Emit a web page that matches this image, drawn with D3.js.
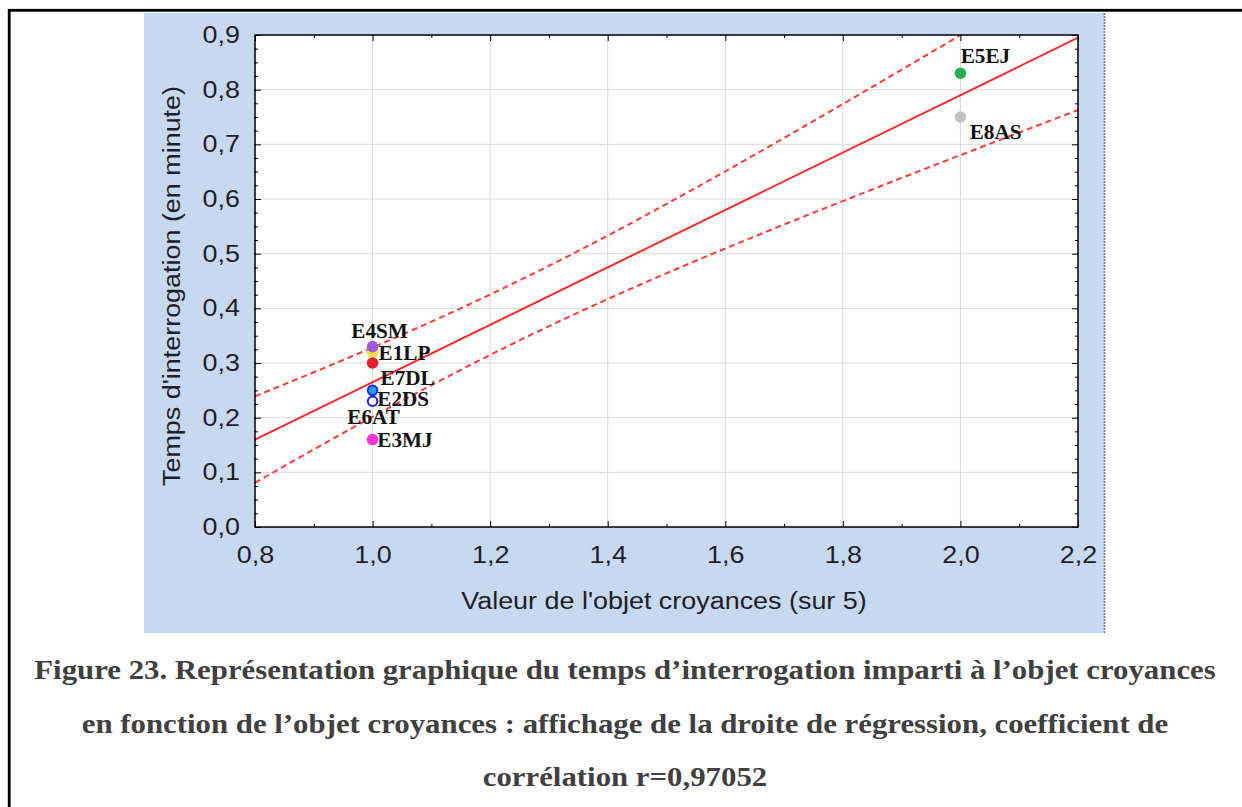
<!DOCTYPE html>
<html>
<head>
<meta charset="utf-8">
<script src="https://cdn.jsdelivr.net/npm/d3@7"></script>
<style>
  html, body { margin: 0; padding: 0; background: #ffffff; }
  svg { display: block; }
</style>
</head>
<body>
<svg id="chart" width="1242" height="807"></svg>
<script>
// ---------------- data ----------------
const pointLabels = ["E1LP", "E4SM", "E7DL", "E2DS", "E6AT", "E3MJ", "E5EJ", "E8AS"];
const xValues     = [1.0, 1.0, 1.0, 1.0, 1.0, 1.0, 2.0, 2.0];
const yValues     = [0.32, 0.33, 0.30, 0.25, 0.23, 0.16, 0.83, 0.75];
const xTicks = [0.8, 1.0, 1.2, 1.4, 1.6, 1.8, 2.0, 2.2];
const yTicks = [0.0, 0.1, 0.2, 0.3, 0.4, 0.5, 0.6, 0.7, 0.8, 0.9];
const xTitle = "Valeur de l'objet croyances (sur 5)";
const yTitle = "Temps d'interrogation (en minute)";
const captionLines = [
  "Figure 23. Représentation graphique du temps d\u2019interrogation imparti à l\u2019objet croyances",
  "en fonction de l\u2019objet croyances : affichage de la droite de régression, coefficient de",
  "corrélation r=0,97052"
];

// ---------------- styles / layout ----------------
const pointFill   = ["#ffe040", "#a05ad8", "#e8202a", "#1ea0f0", "#ffffff", "#ff33dd", "#22b14c", "#c3c3c3"];
const pointStroke = ["none", "none", "none", "#1030ff", "#1a1aff", "none", "none", "none"];
const labelOffsets = [[6, 8], [-21.3, -8.6], [8, 22], [4.7, 15.4], [-25.3, 23], [4.7, 7.5], [0.3, -10], [9.3, 22.3]];

const svg = d3.select("#chart");

function stretch(sel, sx) {
  sel.each(function () {
    const L = this.getComputedTextLength();
    this.setAttribute("textLength", L * sx);
    this.setAttribute("lengthAdjust", "spacingAndGlyphs");
  });
}

// outer frame
svg.append("rect").attr("x", 9.2).attr("y", 10.3).attr("width", 1400).attr("height", 1000)
  .attr("fill", "none").attr("stroke", "#000").attr("stroke-width", 2.8);

// blue panel
svg.append("rect").attr("x", 144).attr("y", 13).attr("width", 960).attr("height", 620).attr("fill", "#c6d9f0");
svg.append("line").attr("x1", 1104.5).attr("x2", 1104.5).attr("y1", 13).attr("y2", 633)
  .attr("stroke", "#777").attr("stroke-width", 1.6).attr("stroke-dasharray", "2,1");

const x = d3.scaleLinear().domain([0.8, 2.2]).range([255, 1078]);
const y = d3.scaleLinear().domain([0, 0.9]).range([527, 35]);
const fmt = d => d3.format(".1f")(d).replace(".", ",");

// plot background
svg.append("rect").attr("x", x.range()[0]).attr("y", y.range()[1])
  .attr("width", x.range()[1] - x.range()[0]).attr("height", y.range()[0] - y.range()[1])
  .attr("fill", "#fff");

// gridlines
const grid = svg.append("g").attr("stroke", "#d9d9d9").attr("stroke-width", 1);
grid.selectAll(".gx").data(xTicks.slice(1, -1)).join("line")
  .attr("x1", d => x(d)).attr("x2", d => x(d)).attr("y1", y.range()[1]).attr("y2", y.range()[0]);
grid.selectAll(".gy").data(yTicks.slice(1, -1)).join("line")
  .attr("y1", d => y(d)).attr("y2", d => y(d)).attr("x1", x.range()[0]).attr("x2", x.range()[1]);

// regression + 95% confidence bands (computed from the data)
const n = xValues.length;
const mx = d3.mean(xValues), my = d3.mean(yValues);
let sxx = 0, sxy = 0;
for (let i = 0; i < n; i++) { sxx += (xValues[i] - mx) ** 2; sxy += (xValues[i] - mx) * (yValues[i] - my); }
const slope = sxy / sxx, intercept = my - slope * mx;
let sse = 0;
for (let i = 0; i < n; i++) sse += (yValues[i] - (intercept + slope * xValues[i])) ** 2;
const s = Math.sqrt(sse / (n - 2));
const tcrit = 2.447;
const xs = d3.range(0, 201).map(i => 0.8 + (1.4 * i) / 200);
const band = sgn => xs.map(xv => [xv, intercept + slope * xv + sgn * tcrit * s * Math.sqrt(1 / n + (xv - mx) ** 2 / sxx)]);

svg.append("clipPath").attr("id", "clip").append("rect")
  .attr("x", x.range()[0]).attr("y", y.range()[1])
  .attr("width", x.range()[1] - x.range()[0]).attr("height", y.range()[0] - y.range()[1]);
const plot = svg.append("g").attr("clip-path", "url(#clip)");
const line = d3.line().x(d => x(d[0])).y(d => y(d[1]));
plot.append("path").attr("d", line(band(1))).attr("fill", "none").attr("stroke", "#ff3b3b")
  .attr("stroke-width", 2).attr("stroke-dasharray", "6,4");
plot.append("path").attr("d", line(band(-1))).attr("fill", "none").attr("stroke", "#ff3b3b")
  .attr("stroke-width", 2).attr("stroke-dasharray", "6,4");
plot.append("path").attr("d", line([[0.8, intercept + slope * 0.8], [2.2, intercept + slope * 2.2]]))
  .attr("fill", "none").attr("stroke", "#ff2a2a").attr("stroke-width", 2);

// frame
svg.append("rect").attr("x", x.range()[0]).attr("y", y.range()[1])
  .attr("width", x.range()[1] - x.range()[0]).attr("height", y.range()[0] - y.range()[1])
  .attr("fill", "none").attr("stroke", "#000").attr("stroke-width", 1.5);

// axes (ticks inward)
const yMinor = d3.range(0, 36).map(i => i * 0.025).filter((d, i) => i % 4 !== 0);
const xMinor = d3.range(0, 14).map(i => 0.8 + i * 0.1).filter((d, i) => i % 2 !== 0);
const axisStyle = g => { g.select(".domain").remove(); g.selectAll(".tick line").attr("stroke", "#000"); };

const gL = svg.append("g").attr("transform", `translate(${x.range()[0]},0)`)
  .call(d3.axisLeft(y).tickValues(yTicks).tickSize(-6).tickPadding(15).tickFormat(fmt)).call(axisStyle);
svg.append("g").attr("transform", `translate(${x.range()[0]},0)`)
  .call(d3.axisLeft(y).tickValues(yMinor).tickSize(-3).tickFormat("")).call(axisStyle);
svg.append("g").attr("transform", `translate(${x.range()[1]},0)`)
  .call(d3.axisRight(y).tickValues(yTicks).tickSize(-6).tickFormat("")).call(axisStyle);
svg.append("g").attr("transform", `translate(${x.range()[1]},0)`)
  .call(d3.axisRight(y).tickValues(yMinor).tickSize(-3).tickFormat("")).call(axisStyle);
const gB = svg.append("g").attr("transform", `translate(0,${y.range()[0]})`)
  .call(d3.axisBottom(x).tickValues(xTicks).tickSize(-6).tickPadding(20).tickFormat(fmt)).call(axisStyle);
svg.append("g").attr("transform", `translate(0,${y.range()[0]})`)
  .call(d3.axisBottom(x).tickValues(xMinor).tickSize(-3).tickFormat("")).call(axisStyle);
svg.append("g").attr("transform", `translate(0,${y.range()[1]})`)
  .call(d3.axisTop(x).tickValues(xTicks).tickSize(-6).tickFormat("")).call(axisStyle);
svg.append("g").attr("transform", `translate(0,${y.range()[1]})`)
  .call(d3.axisTop(x).tickValues(xMinor).tickSize(-3).tickFormat("")).call(axisStyle);

[gL, gB].forEach(g => g.selectAll("text")
  .attr("font-family", "'Liberation Sans', Arial, sans-serif").attr("font-size", 23).attr("fill", "#1e1e28"));
stretch(gL.selectAll("text"), 1.17);
stretch(gB.selectAll("text"), 1.17);

// axis titles
const xt = svg.append("text").attr("x", 664).attr("y", 609).attr("text-anchor", "middle")
  .attr("font-family", "'Liberation Sans', Arial, sans-serif").attr("font-size", 23).attr("fill", "#1e1e28")
  .text(xTitle);
stretch(xt, 1.17);
const yt = svg.append("text").attr("transform", "translate(172,286) rotate(-90)").attr("dy", "0.35em")
  .attr("text-anchor", "middle")
  .attr("font-family", "'Liberation Sans', Arial, sans-serif").attr("font-size", 23).attr("fill", "#1e1e28")
  .text(yTitle);
stretch(yt, 1.17);

// points
const pts = pointLabels.map((lab, i) => ({ lab, x: xValues[i], y: yValues[i], i }));
svg.append("g").selectAll("circle").data(pts).join("circle")
  .attr("cx", d => x(d.x)).attr("cy", d => y(d.y)).attr("r", d => pointStroke[d.i] === "none" ? 5.8 : 4.8)
  .attr("fill", d => pointFill[d.i]).attr("stroke", d => pointStroke[d.i])
  .attr("stroke-width", d => pointStroke[d.i] === "none" ? 0 : 2);

// point labels
const labs = svg.append("g").selectAll("text").data(pts).join("text")
  .attr("x", d => x(d.x) + labelOffsets[d.i][0]).attr("y", d => y(d.y) + labelOffsets[d.i][1])
  .attr("font-family", "'Liberation Serif', 'Times New Roman', serif").attr("font-weight", "bold")
  .attr("font-size", 20).attr("fill", "#111").text(d => d.lab);
stretch(labs, 1.06);

// caption
const capBaselines = [679, 733, 786];
const cap = svg.append("g").selectAll("text").data(captionLines).join("text")
  .attr("x", 625).attr("y", (d, i) => capBaselines[i]).attr("text-anchor", "middle")
  .attr("font-family", "'Liberation Serif', 'Times New Roman', serif").attr("font-weight", "bold")
  .attr("font-size", 27.5).attr("fill", "#404040").text(d => d);
stretch(cap, 1.12);
</script>
</body>
</html>
